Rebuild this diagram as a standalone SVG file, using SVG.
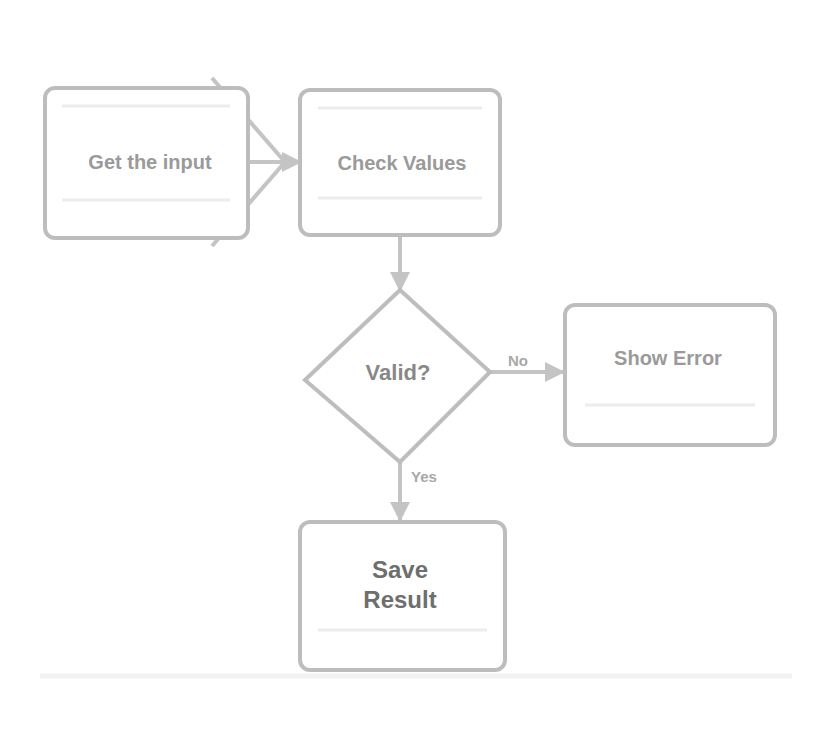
<svg xmlns="http://www.w3.org/2000/svg" width="831" height="754" viewBox="0 0 831 754">
<defs>
<style>
.node{fill:#ffffff;stroke:#bdbdbd;stroke-width:4}
.inner{fill:none;stroke:#ececec;stroke-width:3}
.lbl{font-family:"Liberation Sans",Arial,sans-serif;font-size:20px;fill:#9a9a9a;text-anchor:middle;font-weight:bold}
.big{font-family:"Liberation Sans",Arial,sans-serif;font-size:24px;fill:#6e6e6e;text-anchor:middle;font-weight:bold}
.edge{fill:none;stroke:#c4c4c4;stroke-width:4}
.elbl{font-family:"Liberation Sans",Arial,sans-serif;font-size:15px;fill:#a8a8a8;text-anchor:middle;font-weight:bold}
</style>
<marker id="arr" viewBox="0 0 10 10" refX="9" refY="5" markerWidth="5" markerHeight="5" orient="auto">
<path d="M0,0 L10,5 L0,10 z" fill="#c4c4c4"/>
</marker>
</defs>
<rect width="831" height="754" fill="#ffffff"/>
<g id="connectors">
<polyline class="edge" points="212,78 285,162 212,246"/>
<line class="edge" x1="248" y1="162" x2="300" y2="162" marker-end="url(#arr)"/>
<line class="edge" x1="400" y1="235" x2="400" y2="290" marker-end="url(#arr)"/>
<line class="edge" x1="490" y1="372" x2="563" y2="372" marker-end="url(#arr)"/>
<text class="elbl" x="518" y="366">No</text>
<line class="edge" x1="400" y1="462" x2="400" y2="520" marker-end="url(#arr)"/>
<text class="elbl" x="424" y="482">Yes</text>
</g>
<g id="node-input">
<rect class="node" x="45" y="88" width="203" height="150" rx="10"/>
<line class="inner" x1="62" y1="106" x2="230" y2="106"/>
<line class="inner" x1="62" y1="200" x2="230" y2="200"/>
<text class="lbl" x="150" y="169">Get the input</text>
</g>
<g id="node-process">
<rect class="node" x="300" y="90" width="200" height="145" rx="10"/>
<line class="inner" x1="318" y1="108" x2="482" y2="108"/>
<line class="inner" x1="318" y1="198" x2="482" y2="198"/>
<text class="lbl" x="402" y="170">Check Values</text>
</g>
<g id="node-decision">
<polygon class="node" points="400,290 490,372 400,462 305,380"/>
<text class="lbl" x="398" y="380" style="fill:#888888;font-size:22px">Valid?</text>
</g>
<g id="node-error">
<rect class="node" x="565" y="305" width="210" height="140" rx="10"/>
<line class="inner" x1="585" y1="405" x2="755" y2="405"/>
<text class="lbl" x="668" y="365">Show Error</text>
</g>
<g id="node-result">
<rect class="node" x="300" y="522" width="205" height="148" rx="10"/>
<line class="inner" x1="318" y1="630" x2="487" y2="630"/>
<text class="big" x="400" y="578">Save</text>
<text class="big" x="400" y="608">Result</text>
</g>
<line x1="40" y1="676" x2="792" y2="676" stroke="#f2f2f2" stroke-width="5"/>
</svg>
